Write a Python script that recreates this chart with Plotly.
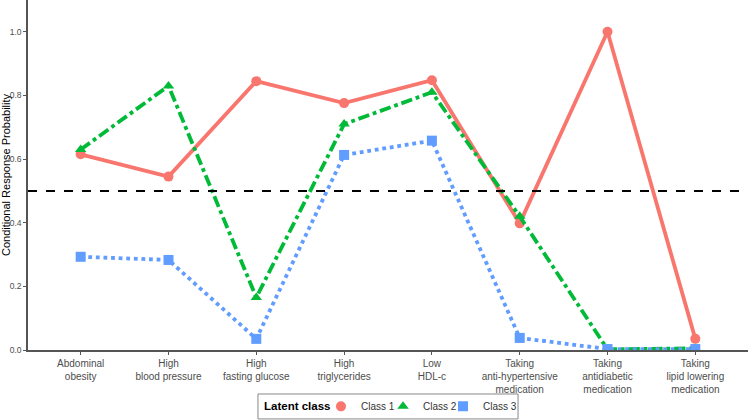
import plotly.graph_objects as go

categories = ["Abdominal<br>obesity", "High<br>blood pressure", "High<br>fasting glucose",
              "High<br>triglycerides", "Low<br>HDL-c", "Taking<br>anti-hypertensive<br>medication",
              "Taking<br>antidiabetic<br>medication", "Taking<br>lipid lowering<br>medication"]
class1 = [0.615, 0.545, 0.845, 0.776, 0.848, 0.398, 1.0, 0.035]
class2 = [0.630, 0.830, 0.165, 0.710, 0.810, 0.420, 0.002, 0.005]
class3 = [0.293, 0.283, 0.035, 0.613, 0.658, 0.038, 0.003, 0.003]
series_names = ["Class 1", "Class 2", "Class 3"]
legend_title = "Latent class"
threshold = 0.5

colors = ["#F8766D", "#00BA38", "#619CFF"]
dashes = ["solid", "dashdot", "dot"]
symbols = ["circle", "triangle-up", "square"]
legend_ids = ["legend", "legend2", "legend3"]
legend_x = [0.4069, 0.4931, 0.5764]

x = list(range(len(categories)))
fig = go.Figure()
for vals, name, c, d, s in zip([class1, class2, class3], series_names, colors, dashes, symbols):
    fig.add_trace(go.Scatter(x=x, y=vals, mode="lines+markers", name=name,
                             line=dict(color=c, width=3.8, dash=d),
                             marker=dict(color=c, symbol=s, size=10),
                             showlegend=False))
for name, c, s, lg in zip(series_names, colors, symbols, legend_ids):
    fig.add_trace(go.Scatter(x=[None], y=[None], mode="markers", name=name, legend=lg,
                             marker=dict(color=c, symbol=s, size=10)))

fig.add_hline(y=threshold, line=dict(color="black", width=2, dash="dash"))

# legend frame and title
fig.add_shape(type="rect", xref="paper", yref="paper", x0=0.3194, x1=0.6806, y0=-0.197, y1=-0.1257,
              line=dict(color="#888888", width=1), fillcolor="rgba(0,0,0,0)")
fig.add_annotation(text="<b>%s</b>" % legend_title, xref="paper", yref="paper", x=0.325, y=-0.161,
                   xanchor="left", yanchor="middle", showarrow=False,
                   font=dict(size=11.5, color="black"))

legend_common = dict(orientation="h", xanchor="left", y=-0.161, yanchor="middle",
                     font=dict(size=10, color="#333333"), bgcolor="rgba(0,0,0,0)",
                     borderwidth=0, itemwidth=30)
fig.update_layout(
    width=748, height=420,
    margin=dict(l=28, r=0, t=0, b=70, autoexpand=False),
    plot_bgcolor="white", paper_bgcolor="white",
    font=dict(family="Liberation Sans, Arial, sans-serif", color="#4D4D4D"),
    legend=dict(x=legend_x[0], **legend_common),
    legend2=dict(x=legend_x[1], **legend_common),
    legend3=dict(x=legend_x[2], **legend_common),
)
fig.update_xaxes(tickmode="array", tickvals=x, ticktext=categories, range=[-0.6, 7.6],
                 showline=True, linecolor="#555555", linewidth=1.5, ticks="outside",
                 ticklen=3, tickcolor="#555555", showgrid=False, zeroline=False,
                 automargin=False, tickfont=dict(size=10, color="#4D4D4D"))
fig.update_yaxes(range=[0, 1.1], tickvals=[0, 0.2, 0.4, 0.6, 0.8, 1.0], tickformat=".1f",
                 showline=True, linecolor="#555555", linewidth=1.5, ticks="outside",
                 ticklen=3, tickcolor="#555555", showgrid=False, zeroline=False,
                 automargin=False, tickfont=dict(size=8.5, color="#4D4D4D"),
                 title=dict(text="Conditional Response Probability", font=dict(size=11, color="black"), standoff=4))

fig.write_html("out.html", config={"displayModeBar": False},
               post_script="document.body.style.margin='0';document.body.style.overflow='hidden';")
